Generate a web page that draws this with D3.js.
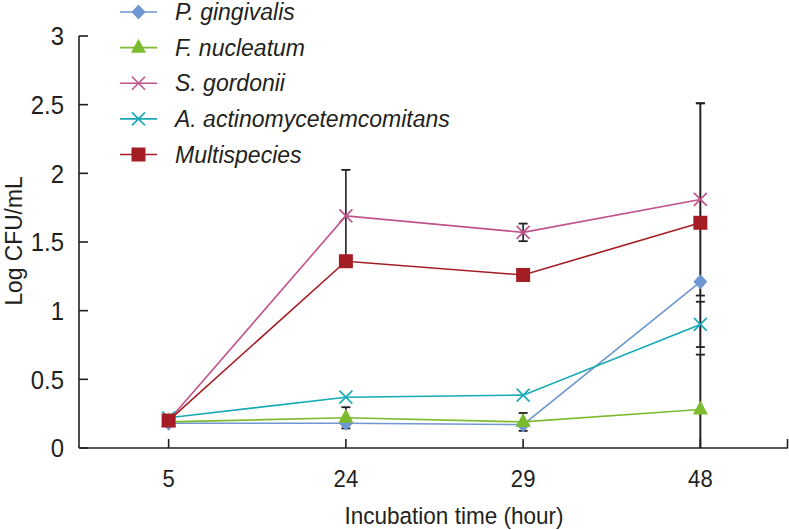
<!DOCTYPE html>
<html><head><meta charset="utf-8">
<script src="https://cdn.jsdelivr.net/npm/d3@7"></script>
<style>
body{margin:0;background:#fff;}
svg{display:block;}
text{font-family:"Liberation Sans Narrow","Arial Narrow","Liberation Sans",sans-serif;fill:#231f20;}
</style></head>
<body>
<svg id="chart" width="789" height="530"></svg>
<script>
// ---- data ----
const times = ["5", "24", "29", "48"];
const seriesNames = ["P. gingivalis", "F. nucleatum", "S. gordonii", "A. actinomycetemcomitans", "Multispecies"];
const pGingivalis = [0.18, 0.18, 0.17, 1.21];
const fNucleatum = [0.19, 0.22, 0.19, 0.28];
const sGordonii = [0.20, 1.69, 1.57, 1.81];
const aActino = [0.22, 0.37, 0.385, 0.90];
const multispecies = [0.20, 1.36, 1.26, 1.64];
// error (± values), 0 = none
const pGingivalisErr = [0, 0, 0, 1.30];
const fNucleatumErr = [0, 0.077, 0.065, 0.40];
const sGordoniiErr = [0, 0.335, 0.064, 0.70];
const aActinoErr = [0, 0, 0, 0.165];
const multispeciesErr = [0, 0, 0, 0];
const yTicks = [0, 0.5, 1, 1.5, 2, 2.5, 3];
const colors = ["#6f97d1", "#7cbb2e", "#c0528c", "#16aab6", "#a51d24"];
const markers = ["diamond", "triangle", "x", "x", "square"];

const values = [pGingivalis, fNucleatum, sGordonii, aActino, multispecies];
const errs = [pGingivalisErr, fNucleatumErr, sGordoniiErr, aActinoErr, multispeciesErr];

const svg = d3.select("#chart");
const axisColor = "#231f20";
const x = d3.scalePoint().domain(times).range([80, 789]).padding(0.5);
const y = d3.scaleLinear().domain([0, 3]).range([448, 36]);

// y axis
const gy = svg.append("g");
gy.append("line").attr("x1", 79).attr("x2", 79).attr("y1", y(3)).attr("y2", y(0))
  .attr("stroke", axisColor).attr("stroke-width", 1.6);
gy.selectAll("line.t").data(yTicks).enter().append("line").attr("class", "t")
  .attr("x1", 79).attr("x2", 88).attr("y1", d => y(d)).attr("y2", d => y(d))
  .attr("stroke", axisColor).attr("stroke-width", 1.6);
gy.selectAll("text").data(yTicks).enter().append("text")
  .attr("transform", d => `translate(64,${y(d)}) scale(0.92,1)`).attr("dy", "0.36em")
  .attr("text-anchor", "end").attr("font-size", 26).text(d => d3.format("")(d));

// x axis
const gx = svg.append("g");
gx.append("line").attr("x1", 79).attr("x2", 788).attr("y1", y(0)).attr("y2", y(0))
  .attr("stroke", axisColor).attr("stroke-width", 1.6);
gx.selectAll("line.t").data(times).enter().append("line").attr("class", "t")
  .attr("x1", d => x(d)).attr("x2", d => x(d)).attr("y1", y(0)).attr("y2", y(0) - 9)
  .attr("stroke", axisColor).attr("stroke-width", 1.6);
gx.append("line").attr("x1", 787.5).attr("x2", 787.5).attr("y1", y(0)).attr("y2", y(0) - 9)
  .attr("stroke", axisColor).attr("stroke-width", 1.6);
gx.selectAll("text").data(times).enter().append("text")
  .attr("transform", d => `translate(${x(d)},487) scale(0.92,1)`).attr("text-anchor", "middle")
  .attr("font-size", 24).text(d => d);

svg.append("text").attr("transform", "translate(454,524) scale(0.92,1)").attr("text-anchor", "middle")
  .attr("font-size", 24.5).text("Incubation time (hour)");
svg.append("text").attr("transform", "translate(22,241) rotate(-90) scale(0.95,1)")
  .attr("text-anchor", "middle").attr("font-size", 24).text("Log CFU/mL");

// error bars
const eb = svg.append("g");
values.forEach((vals, si) => {
  vals.forEach((v, i) => {
    const e = errs[si][i];
    if (!e) return;
    const cx = x(times[i]);
    const hi = v + e, lo = Math.max(0, v - e);
    eb.append("line").attr("x1", cx).attr("x2", cx).attr("y1", y(hi)).attr("y2", y(lo))
      .attr("stroke", axisColor).attr("stroke-width", 1.6);
    eb.append("line").attr("x1", cx - 4.5).attr("x2", cx + 4.5).attr("y1", y(hi)).attr("y2", y(hi))
      .attr("stroke", axisColor).attr("stroke-width", 1.8);
    if (v - e >= 0) {
      eb.append("line").attr("x1", cx - 4.5).attr("x2", cx + 4.5).attr("y1", y(lo)).attr("y2", y(lo))
        .attr("stroke", axisColor).attr("stroke-width", 1.8);
    }
  });
});

function drawMarker(g, type, cx, cy, color) {
  if (type === "square") {
    g.append("rect").attr("x", cx - 7).attr("y", cy - 7).attr("width", 14).attr("height", 14).attr("fill", color);
  } else if (type === "diamond") {
    g.append("path").attr("d", `M${cx},${cy - 7.5}L${cx + 7},${cy}L${cx},${cy + 7.5}L${cx - 7},${cy}Z`).attr("fill", color);
  } else if (type === "triangle") {
    g.append("path").attr("d", `M${cx},${cy - 9}L${cx + 7.5},${cy + 5}L${cx - 7.5},${cy + 5}Z`).attr("fill", color);
  } else if (type === "x") {
    const r = 6.5;
    g.append("path").attr("d", `M${cx - r},${cy - r}L${cx + r},${cy + r}M${cx - r},${cy + r}L${cx + r},${cy - r}`)
      .attr("stroke", color).attr("stroke-width", 1.6).attr("fill", "none");
  }
}

// lines + markers
const line = d3.line().x((d, i) => x(times[i])).y(d => y(d));
values.forEach((vals, si) => {
  const g = svg.append("g");
  g.append("path").datum(vals).attr("d", line).attr("fill", "none")
    .attr("stroke", colors[si]).attr("stroke-width", 1.6);
  vals.forEach((v, i) => drawMarker(g, markers[si], x(times[i]), y(v), colors[si]));
});

// legend
const legendY = d3.scaleLinear().domain([0, 4]).range([12, 154.5]);
const lg = svg.append("g");
seriesNames.forEach((name, si) => {
  const ly = legendY(si);
  lg.append("line").attr("x1", 120).attr("x2", 157).attr("y1", ly).attr("y2", ly)
    .attr("stroke", colors[si]).attr("stroke-width", 1.6);
  drawMarker(lg, markers[si], 138.5, ly, colors[si]);
  lg.append("text").attr("x", 175).attr("y", ly + 8).attr("font-size", 23)
    .attr("font-style", "italic").text(name);
});
</script>
</body></html>
